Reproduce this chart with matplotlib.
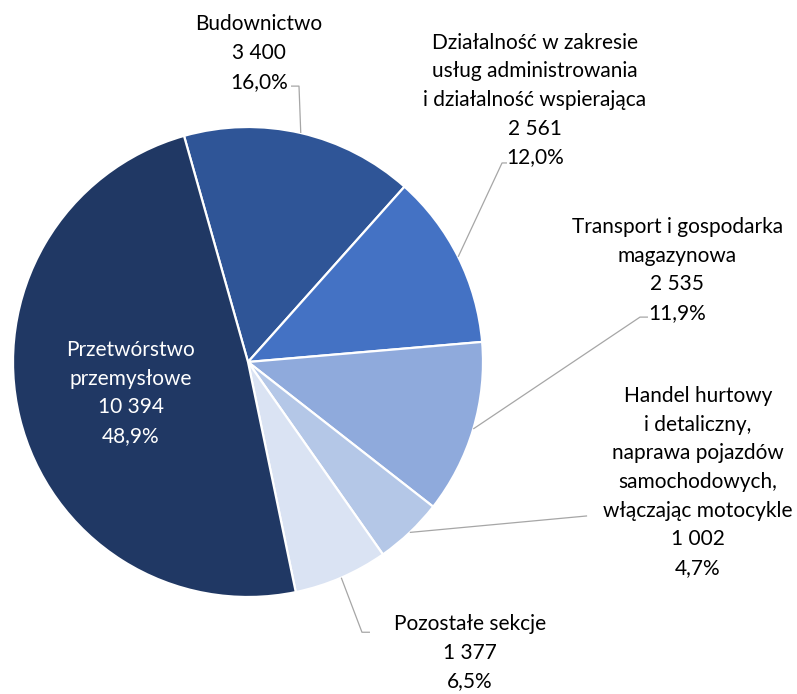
import numpy as np
import matplotlib
matplotlib.use('Agg')
import matplotlib.pyplot as plt

plt.rcParams['font.family'] = ['Lato', 'DejaVu Sans']

# slices in clockwise order, starting just left of 12 o'clock
names = ['Budownictwo',
         'Działalność w zakresie\nusług administrowania\ni działalność wspierająca',
         'Transport i gospodarka\nmagazynowa',
         'Handel hurtowy\ni detaliczny,\nnaprawa pojazdów\nsamochodowych,\nwłączając motocykle',
         'Pozostałe sekcje',
         'Przetwórstwo\nprzemysłowe']
values = [3400, 2561, 2535, 1002, 1377, 10394]
colors = ['#2F5597', '#4472C4', '#8FAADC', '#B4C7E7', '#DAE3F3', '#203864']

# label centres and leader-line elbows (pie radius = 1)
label_pos = [(0.047, 1.315), (1.221, 1.115), (1.826, 0.391),
             (1.915, -0.511), (0.945, -1.238), (-0.498, -0.132)]
elbows = [[(0.217, 1.174), (0.183, 1.174)],
          [(1.081, 0.847), (1.102, 0.847)],
          [(1.668, 0.191), (1.702, 0.191)],
          [(1.443, -0.655)],
          [(0.485, -1.150), (0.519, -1.150)],
          None]

fig = plt.figure(figsize=(7.97, 6.94), dpi=100)
ax = fig.add_axes([0, 0, 1, 1])

wedges, _ = ax.pie(values, colors=colors, startangle=105.8, counterclock=False,
                   radius=1.0, wedgeprops=dict(edgecolor='white', linewidth=1.6))

total = sum(values)
for i, w in enumerate(wedges):
    val = f'{values[i]:,}'.replace(',', ' ')
    pct = f'{values[i] / total * 100:.1f}%'.replace('.', ',')
    txt = f'{names[i]}\n{val}\n{pct}'
    col = 'white' if i == 5 else 'black'
    x, y = label_pos[i]
    ax.text(x, y, txt, ha='center', va='center', multialignment='center',
            fontsize=15, color=col, linespacing=1.54)
    if elbows[i] is not None:
        mid = np.deg2rad((w.theta1 + w.theta2) / 2)
        pts = [(np.cos(mid), np.sin(mid))] + elbows[i]
        xs, ys = zip(*pts)
        ax.plot(xs, ys, color='#A6A6A6', linewidth=0.9, solid_capstyle='butt')

ax.set_xlim(-248 / 235, (797 - 248) / 235)
ax.set_ylim(-(694 - 362) / 235, 362 / 235)
ax.set_aspect('equal')
ax.axis('off')

fig.savefig('out.png', dpi=100)
